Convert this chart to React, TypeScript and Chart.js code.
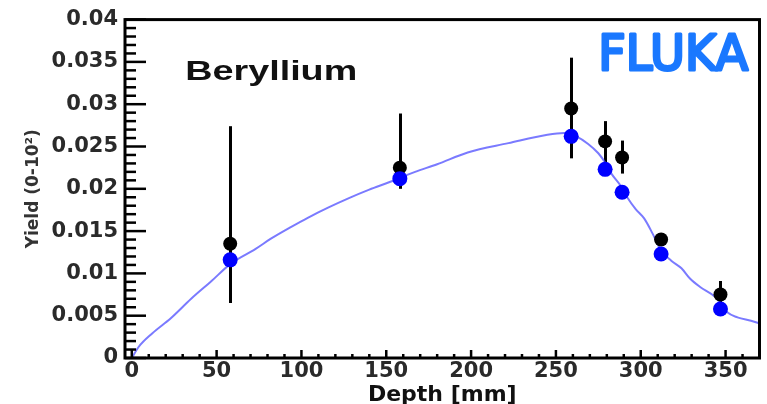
import React, { useEffect, useRef } from 'react';
import { Chart, registerables } from 'chart.js';

Chart.register(...registerables);

// Measured yield vs depth (black markers with vertical error bars)
const depthMm = [58, 158, 259, 279, 289, 312, 347];
const measuredYield = [0.0135, 0.0225, 0.0295, 0.0256, 0.0237, 0.014, 0.0075];
const measuredLow = [0.0065, 0.02, 0.0236, 0.023, 0.0218, 0.0135, 0.0062];
const measuredHigh = [0.0274, 0.0289, 0.0355, 0.028, 0.0257, 0.0145, 0.0091];

// FLUKA yield at the same depths (blue markers)
const flukaYield = [0.0116, 0.0212, 0.0262, 0.0223, 0.0196, 0.0123, 0.0058];

// FLUKA continuous depth profile
const profileDepth = [0, 4, 12, 23, 35, 47, 58, 73, 82, 94, 104, 116, 128, 140, 152, 167, 180, 198, 222, 245, 255, 262, 269, 275, 279, 283, 288, 292, 297, 302, 307, 312, 318, 324, 329, 335, 344, 351, 357, 365, 370];
const profileYield = [0, 0.0013, 0.0029, 0.0047, 0.007, 0.0091, 0.0111, 0.0129, 0.0141, 0.0155, 0.0166, 0.0178, 0.0189, 0.0199, 0.0208, 0.022, 0.0229, 0.0243, 0.0254, 0.0264, 0.0266, 0.0262, 0.0253, 0.0242, 0.0231, 0.0217, 0.0204, 0.019, 0.0176, 0.0165, 0.0147, 0.0127, 0.0115, 0.0106, 0.0094, 0.0084, 0.0072, 0.0054, 0.0048, 0.0044, 0.0041];

// Axis ticks
const xTickValues = [0, 50, 100, 150, 200, 250, 300, 350];
const yTickValues = [0, 0.005, 0.01, 0.015, 0.02, 0.025, 0.03, 0.035, 0.04];
const yTickLabels = ['0', '0.005', '0.01', '0.015', '0.02', '0.025', '0.03', '0.035', '0.04'];

const FONT = '"DejaVu Sans", "Liberation Sans", sans-serif';

// Draws error bars, the framed axes with inward ticks, and the text labels
const framePlugin = {
  id: 'rootFrame',
  beforeDatasetsDraw(chart: any) {
    const { ctx, scales } = chart;
    const x = scales.x;
    const y = scales.y;
    ctx.save();
    ctx.strokeStyle = '#000';
    ctx.lineWidth = 3;
    depthMm.forEach((d, i) => {
      const px = Math.round(x.getPixelForValue(d)) + 0.5;
      ctx.beginPath();
      ctx.moveTo(px, y.getPixelForValue(measuredHigh[i]));
      ctx.lineTo(px, y.getPixelForValue(measuredLow[i]));
      ctx.stroke();
    });
    ctx.restore();
  },
  afterDatasetsDraw(chart: any) {
    const { ctx, chartArea: a, scales } = chart;
    const x = scales.x;
    const y = scales.y;
    ctx.save();
    ctx.strokeStyle = '#000';
    // y ticks (every 0.001, major every 0.005)
    ctx.lineWidth = 2.5;
    for (let i = 0; i <= 40; i++) {
      const py = y.getPixelForValue(i * 0.001);
      const len = i % 5 === 0 ? 21 : 11;
      ctx.beginPath();
      ctx.moveTo(a.left, py);
      ctx.lineTo(a.left + len, py);
      ctx.stroke();
    }
    // x ticks (every 10 mm, major every 50 mm)
    for (let v = 0; v <= 360; v += 10) {
      const px = x.getPixelForValue(v);
      const len = v % 50 === 0 ? 8 : 4;
      ctx.beginPath();
      ctx.moveTo(px, a.bottom);
      ctx.lineTo(px, a.bottom - len);
      ctx.stroke();
    }
    // frame
    ctx.lineWidth = 3;
    ctx.strokeRect(a.left, a.top, a.right - a.left, a.bottom - a.top);
    ctx.restore();
  },
  afterDraw(chart: any) {
    const { ctx, scales } = chart;
    const x = scales.x;
    const y = scales.y;
    ctx.save();
    // material label
    ctx.font = `bold 27px "Liberation Sans", Arial, sans-serif`;
    ctx.fillStyle = '#111';
    ctx.textBaseline = 'alphabetic';
    let w = ctx.measureText('Beryllium').width;
    ctx.translate(x.getPixelForValue(31.5), y.getPixelForValue(0.0329));
    ctx.scale(172 / w, 1);
    ctx.fillText('Beryllium', 0, 0);
    ctx.restore();

    // code label
    ctx.save();
    ctx.font = `50px "Comic Sans MS", ${FONT}`;
    ctx.fillStyle = '#1a78ff';
    ctx.strokeStyle = '#1a78ff';
    ctx.lineJoin = 'round';
    ctx.lineCap = 'round';
    ctx.lineWidth = 3;
    w = ctx.measureText('FLUKA').width;
    ctx.translate(x.getPixelForValue(275), y.getPixelForValue(0.0341));
    ctx.scale(150 / w, 1);
    ctx.fillText('FLUKA', 0, 0);
    ctx.strokeText('FLUKA', 0, 0);
    ctx.restore();
  },
};

export default function App() {
  const ref = useRef<HTMLCanvasElement>(null);

  useEffect(() => {
    document.body.style.margin = '0';
    const canvas = ref.current!;

    const chart = new Chart(canvas, {
      type: 'scatter',
      data: {
        datasets: [
          {
            label: 'FLUKA',
            data: depthMm.map((d, i) => ({ x: d, y: flukaYield[i] })),
            pointStyle: 'circle',
            pointRadius: 7.5,
            backgroundColor: '#0000ff',
            borderWidth: 0,
          },
          {
            label: 'Data',
            data: depthMm.map((d, i) => ({ x: d, y: measuredYield[i] })),
            pointStyle: 'circle',
            pointRadius: 7,
            backgroundColor: '#000',
            borderWidth: 0,
          },
          {
            label: 'FLUKA profile',
            data: profileDepth.map((d, i) => ({ x: d, y: profileYield[i] })),
            showLine: true,
            borderColor: 'rgba(70, 70, 255, 0.72)',
            borderWidth: 2,
            pointRadius: 0,
            cubicInterpolationMode: 'monotone',
            fill: false,
          } as any,
        ],
      },
      options: {
        animation: false,
        responsive: false,
        devicePixelRatio: 1,
        layout: { padding: { left: 0, top: 18, right: 6, bottom: 0 } },
        plugins: {
          legend: { display: false },
          tooltip: { enabled: false },
        },
        scales: {
          x: {
            type: 'linear',
            min: -4,
            max: 370,
            afterBuildTicks: (s: any) => {
              s.ticks = xTickValues.map((v) => ({ value: v }));
            },
            afterFit: (s: any) => {
              s.height = 46;
            },
            grid: { display: false, drawTicks: false },
            border: { display: false },
            ticks: {
              autoSkip: false,
              maxRotation: 0,
              padding: 1,
              color: '#2a2a2a',
              font: { family: FONT, size: 21, weight: 'bold' },
              callback: (v: any) => String(v),
            },
            title: {
              display: true,
              text: 'Depth [mm]',
              color: '#111',
              font: { family: FONT, size: 22, weight: 'bold' },
              padding: { top: 0, bottom: -4 },
            },
          },
          y: {
            type: 'linear',
            min: 0,
            max: 0.04,
            afterBuildTicks: (s: any) => {
              s.ticks = yTickValues.map((v) => ({ value: v }));
            },
            afterFit: (s: any) => {
              s.width = 125;
            },
            grid: { display: false, drawTicks: false },
            border: { display: false },
            ticks: {
              autoSkip: false,
              padding: 7,
              color: '#2a2a2a',
              font: { family: FONT, size: 21, weight: 'bold' },
              callback: (_v: any, i: number) => yTickLabels[i],
            },
            title: {
              display: true,
              text: 'Yield (0-10²)',
              color: '#333',
              font: { family: FONT, size: 17, weight: 'bold' },
              padding: { top: 23, bottom: 0 },
            },
          },
        },
      },
      plugins: [framePlugin],
    });

    return () => chart.destroy();
  }, []);

  return (
    <div style={{ width: 767, height: 404, background: '#fff' }}>
      <canvas ref={ref} width={767} height={404} style={{ display: 'block' }} />
    </div>
  );
}
